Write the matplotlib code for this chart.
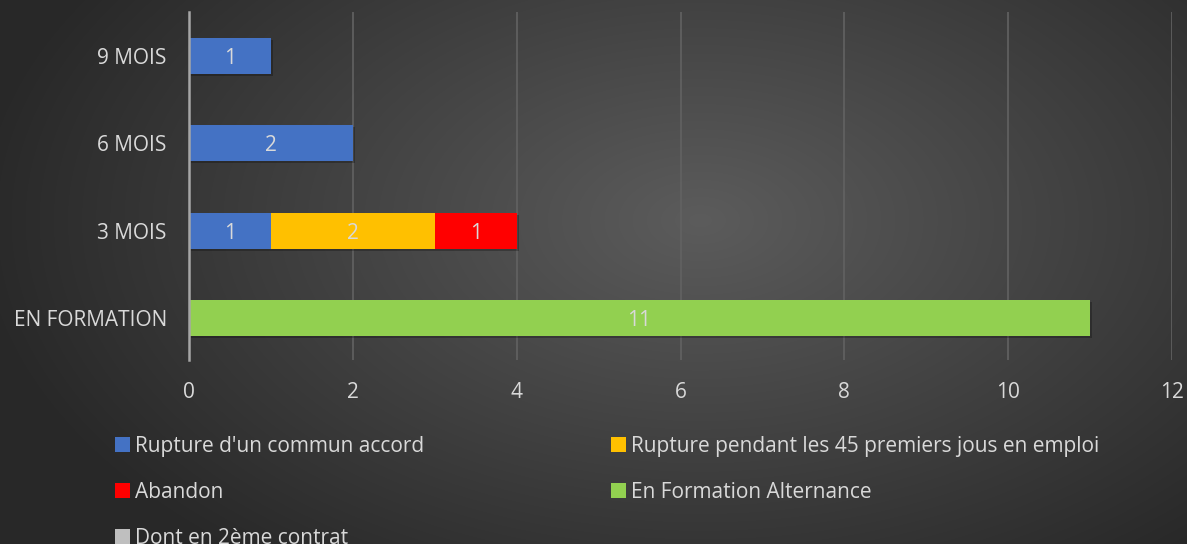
import numpy as np
from matplotlib import pyplot as plt
from matplotlib import patheffects as pe
from matplotlib.patches import Patch

plt.rcParams['font.family'] = ['Open Sans', 'DejaVu Sans']

categories = ["EN FORMATION", "3 MOIS", "6 MOIS", "9 MOIS"]
series_names = [
    "Rupture d'un commun accord",
    "Rupture pendant les 45 premiers jous en emploi",
    "Abandon",
    "En Formation Alternance",
    "Dont en 2ème contrat",
]
rupture_commun = [0, 1, 2, 1]
rupture_45 = [0, 2, 0, 0]
abandon = [0, 1, 0, 0]
formation_alt = [11, 0, 0, 0]
deuxieme_contrat = [0, 0, 0, 0]
x_ticks = [0, 2, 4, 6, 8, 10, 12]

colors = ["#4472C4", "#FFC000", "#FF0000", "#92D050", "#BFBFBF"]
TEXT = "#D9D9D9"

fig = plt.figure(figsize=(11.87, 5.44), dpi=100)

# radial gradient background
bg = fig.add_axes([0, 0, 1, 1], zorder=-10)
yy, xx = np.mgrid[0:544, 0:1187]
r = np.sqrt(((xx - 700) / 720.0) ** 2 + ((yy - 220) / 430.0) ** 2)
r = np.clip(r, 0, 1)
shade = 0.36 - 0.20 * r
bg.imshow(np.dstack([shade] * 3), aspect='auto', extent=[0, 1, 0, 1])
bg.axis('off')

ax = fig.add_axes([189 / 1187, 1 - 360 / 544, (1172 - 189) / 1187, 348 / 544])
ax.set_facecolor('none')

y = np.arange(len(categories))
height = 0.41
shadow = [pe.SimplePatchShadow(offset=(1.5, -1.5), shadow_rgbFace='black', alpha=0.25), pe.Normal()]

left = np.zeros(len(categories))
handles = []
for name, vals, col in zip(series_names,
                           [rupture_commun, rupture_45, abandon, formation_alt, deuxieme_contrat],
                           colors):
    vals = np.array(vals, dtype=float)
    bars = ax.barh(y, vals, height, left=left, color=col, zorder=3)
    for b, v in zip(bars, vals):
        if v > 0:
            b.set_path_effects(shadow)
            ax.text(b.get_x() + b.get_width() / 2, b.get_y() + b.get_height() / 2,
                    f"{int(v)}", ha='center', va='center_baseline', color=TEXT, fontsize=15, zorder=4)
    left += vals
    handles.append(Patch(facecolor=col, label=name))

ax.set_xlim(0, 12)
ax.set_ylim(-0.48, 3.5)
ax.set_xticks(x_ticks)
ax.set_yticks(y, categories)
ax.tick_params(axis='both', length=0, colors=TEXT, labelsize=15)
ax.tick_params(axis='x', pad=16)
ax.tick_params(axis='y', pad=16)
ax.grid(axis='x', color='#626262', linewidth=1.2, zorder=0)
for s in ['top', 'right', 'bottom']:
    ax.spines[s].set_visible(False)
ax.spines['left'].set_color('#A6A6A6')
ax.spines['left'].set_linewidth(1.8)
ax.spines['left'].set_zorder(5)

legend_kw = dict(frameon=False, fontsize=15, labelcolor=TEXT, handlelength=0.7,
                 handleheight=0.7, handletextpad=0.25, labelspacing=1.2,
                 borderpad=0, borderaxespad=0, loc='upper left')
fig.legend(handles=[handles[0], handles[2], handles[4]], bbox_to_anchor=(115 / 1187, 1 - 436 / 544), **legend_kw)
fig.legend(handles=[handles[1], handles[3]], bbox_to_anchor=(611 / 1187, 1 - 436 / 544), **legend_kw)

fig.savefig("out.png", dpi=100)
